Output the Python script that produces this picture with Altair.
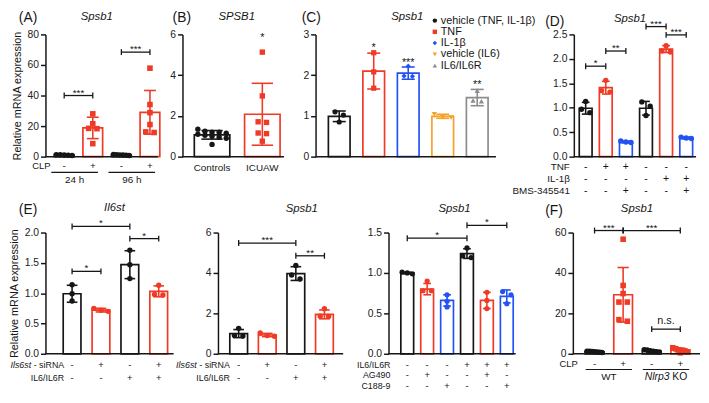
import altair as alt
import pandas as pd

FONT = "Liberation Sans"
K = "#161616"
R = "#EF3A25"
BL = "#2452F2"
OR = "#F5A02A"
GR = "#8C8C8C"

# ---------------- data ----------------
# (A) Spsb1, mouse muscle after CLP
A_cond = ["24 h -", "24 h +", "96 h -", "96 h +"]
A_mean = [1.0, 18.8, 1.05, 29.0]
A_sd = [0.3, 7.0, 0.3, 14.3]
A_pts = [[0.7, 1.0, 1.2, 0.9, 1.2], [28.0, 21.5, 18.5, 18.3, 8.5],
         [0.8, 1.1, 1.3, 0.9, 1.0, 1.2], [57.9, 34.1, 28.8, 21.0, 16.2, 15.8]]
A_sig = [(1, 2, 40.0, "***"), (3, 4, 68.4, "***")]
A_clp = ["-", "+", "-", "+"]
A_groups = ["24 h", "96 h"]

# (B) SPSB1, human muscle
B_cat = ["Controls", "ICUAW"]
B_mean = [1.07, 2.08]
B_sd = [0.21, 1.52]
B_pts = [[1.35, 1.25, 1.2, 1.2, 1.15, 1.1, 1.05, 1.0, 0.95, 0.9, 0.6],
         [5.13, 2.98, 1.71, 1.68, 1.16, 1.13, 0.76]]
B_star = ["", "*"]
B_star_y = [0.0, 5.95]

# (C) Spsb1, cytokine stimulation
C_cond = ["vehicle (TNF, IL-1β)", "TNF", "IL-1β", "vehicle (IL6)", "IL6/IL6R"]
C_mean = [0.99, 2.1, 2.05, 0.99, 1.45]
C_sd = [0.13, 0.44, 0.15, 0.05, 0.2]
C_pts = [[1.1, 1.02, 0.85], [2.55, 2.08, 1.68], [2.22, 1.98, 1.97],
         [1.04, 0.97, 0.96], [1.62, 1.38, 1.36]]
C_star = ["", "*", "***", "", "**"]
C_star_y = [0.0, 2.75, 2.38, 0.0, 1.83]

# (D) Spsb1, NF-kB inhibition
D_mean = [0.99, 1.41, 0.3, 0.99, 2.2, 0.38]
D_sd = [0.12, 0.13, 0.02, 0.14, 0.07, 0.02]
D_pts = [[1.13, 0.97, 0.9], [1.56, 1.35, 1.32], [0.32, 0.3, 0.29],
         [1.12, 1.03, 0.84], [2.27, 2.16, 2.14], [0.4, 0.38, 0.37]]
D_sig = [(1, 2, 1.85, "*"), (2, 3, 2.16, "**"), (4, 5, 2.66, "***"), (5, 6, 2.49, "***")]
D_tnf = ["-", "+", "+", "-", "-", "-"]
D_il1b = ["-", "-", "-", "-", "+", "+"]
D_bms = ["-", "-", "+", "-", "-", "+"]

# (E) left: Il6st
E1_mean = [0.99, 0.72, 1.47, 1.03]
E1_sd = [0.14, 0.03, 0.23, 0.09]
E1_pts = [[1.14, 0.99, 0.87], [0.75, 0.72, 0.7], [1.71, 1.47, 1.24], [1.13, 0.98, 0.97]]
E1_sig = [(1, 3, 2.1, "*"), (3, 4, 1.9, "*"), (1, 2, 1.36, "*")]
# (E) middle: Spsb1
E2_mean = [1.0, 0.93, 3.97, 1.95]
E2_sd = [0.2, 0.08, 0.34, 0.22]
E2_pts = [[1.26, 0.9, 0.88], [1.03, 0.87, 0.9], [4.37, 3.7, 3.9], [2.23, 1.85, 1.86]]
E2_sig = [(1, 3, 5.48, "***"), (3, 4, 4.85, "**")]
E_sirna = ["-", "+", "-", "+"]
E_il6 = ["-", "-", "+", "+"]
# (E) right: Spsb1, JAK/STAT3 inhibition
E3_mean = [1.0, 0.8, 0.66, 1.24, 0.66, 0.71]
E3_sd = [0.01, 0.07, 0.07, 0.06, 0.1, 0.08]
E3_pts = [[1.0, 1.01, 0.99], [0.9, 0.78, 0.78], [0.73, 0.65, 0.58],
          [1.31, 1.19, 1.21], [0.76, 0.66, 0.56], [0.77, 0.73, 0.62]]
E3_sig = [(1, 4, 1.43, "*"), (4, 6, 1.59, "*")]
E3_il6 = ["-", "-", "-", "+", "+", "+"]
E3_ag490 = ["-", "+", "-", "-", "+", "-"]
E3_c188 = ["-", "-", "+", "-", "-", "+"]

# (F) Spsb1, WT vs Nlrp3 KO after CLP
F_mean = [1.0, 29.2, 1.4, 1.8]
F_sd = [0.3, 13.5, 0.4, 0.8]
F_pts = [[0.6, 0.8, 1.0, 1.1, 1.2, 1.3, 0.9], [56.7, 33.8, 29.8, 25.6, 25.6, 16.9, 16.1],
         [1.0, 1.5, 2.0, 1.8, 1.2, 0.9], [0.5, 1.0, 1.5, 2.0, 2.5, 3.0, 1.8]]
F_sig = [(1, 2, 61.0, "***"), (2, 4, 61.0, "***"), (3, 4, 12.2, "n.s.")]
F_clp = ["-", "+", "-", "+"]
F_groups = ["WT", "Nlrp3 KO"]

# ---------------- helpers ----------------
AW = {" ": 278, "-": 333, "/": 278, "(": 333, ")": 333, ".": 278}
for ch in "0123456789":
    AW[ch] = 556
for ch, w in zip("abcdefghijklmnopqrstuvwxyz",
                 [556, 556, 500, 556, 556, 278, 556, 556, 222, 222, 500, 222, 833, 556, 556, 556, 556, 333, 500, 278, 556, 500, 722, 500, 500, 500]):
    AW[ch] = w
for ch, w in zip("ABCDEFGHIJKLMNOPQRSTUVWXYZ",
                 [667, 667, 722, 722, 667, 611, 778, 722, 278, 500, 667, 556, 833, 722, 778, 667, 778, 722, 667, 611, 722, 667, 944, 667, 667, 611]):
    AW[ch] = w


def twidth(s, fs):
    return sum(AW.get(c, 556) for c in s) * fs / 1000.0


def swarm(vals, ymax, H, bw):
    spread = bw * 0.8
    order = sorted(range(len(vals)), key=lambda i: -vals[i])
    clusters = []
    for i in order:
        ypx = vals[i] / ymax * H
        if clusters and abs(clusters[-1][0] - ypx) < 4.5:
            clusters[-1][1].append(i)
        else:
            clusters.append([ypx, [i]])
    offs = [0.0] * len(vals)
    for _, idx in clusters:
        k = len(idx)
        if k > 1:
            st = min(spread / (k - 1), 8.5)
            for j, i in enumerate(idx):
                offs[i] = (j - (k - 1) / 2) * st
    return offs


def one(**kw):
    return pd.DataFrame({k: [v] for k, v in kw.items()})


def build(c):
    W, H, L = c["W"], c["H"], c["L"]
    f, s, bw = c["first"], c["step"], c["bw"]
    ymax = c["ymax"]
    n = len(c["mean"])
    d0 = 1 - f / s
    d1 = 1 + (W - f) / s
    xsc = alt.Scale(domain=[d0, d1], nice=False, zero=False)
    ysc = alt.Scale(domain=[0, ymax], nice=False, zero=False)
    axkw = dict(values=c["ticks"], format=c["fmt"], grid=False, labelPadding=2)
    if c.get("ytitle"):
        axkw["title"] = c["ytitle"]
        axkw["titlePadding"] = 5
    else:
        axkw["title"] = ""
    yax = alt.Axis(**axkw)

    def X(fl):
        return alt.X(f"{fl}:Q", scale=xsc, axis=None)

    def Y(fl):
        return alt.Y(f"{fl}:Q", scale=ysc, axis=yax)

    hw = bw / 2 / s
    cw = bw * 0.3 / s
    pos = list(range(1, n + 1))
    bars = pd.DataFrame({"pos": pos, "mean": c["mean"], "sd": c["sd"], "col": c["colors"]})
    bars["xl"] = bars["pos"] - hw
    bars["xr"] = bars["pos"] + hw
    bars["lo"] = bars["mean"] - bars["sd"]
    bars["hi"] = bars["mean"] + bars["sd"]
    bars["cl"] = bars["pos"] - cw
    bars["cr"] = bars["pos"] + cw
    col = alt.Color("col:N", scale=None)
    layers = []
    layers.append(alt.Chart(bars).mark_rect(fill="white", strokeWidth=1.7).encode(
        x=X("xl"), x2="xr:Q", y=Y("mean"), y2=alt.datum(0), stroke=alt.Stroke("col:N", scale=None)))
    layers.append(alt.Chart(bars).mark_rule(strokeWidth=1.6).encode(x=X("pos"), y=Y("lo"), y2="hi:Q", color=col))
    layers.append(alt.Chart(bars).mark_rule(strokeWidth=1.6).encode(x=X("cl"), x2="cr:Q", y=Y("hi"), color=col))
    layers.append(alt.Chart(bars).mark_rule(strokeWidth=1.6).encode(x=X("cl"), x2="cr:Q", y=Y("lo"), color=col))

    # points
    rows = []
    for i, vals in enumerate(c["pts"]):
        offs = swarm(vals, ymax, H, bw)
        for v, o in zip(vals, offs):
            rows.append({"x": i + 1 + o / s, "v": v, "col": c["colors"][i], "shape": c["shapes"][i]})
    pdf = pd.DataFrame(rows)
    layers.append(alt.Chart(pdf).mark_point(filled=True, size=c.get("ms", 30), opacity=1, strokeWidth=0).encode(
        x=X("x"), y=Y("v"), color=alt.Color("col:N", scale=None), shape=alt.Shape("shape:N", scale=None)))

    # legend drawn inside the panel (C)
    if c.get("legend"):
        lx, ly, lstep = c["legend"]
        lg = pd.DataFrame({"cond": c["cond"], "col": c["colors"], "shape": c["shapes"], "i": list(range(n))})
        lg["yy"] = ly + lg["i"] * lstep
        layers.append(alt.Chart(lg).mark_point(filled=True, size=20, opacity=1, strokeWidth=0).encode(
            x=alt.value(lx), y=alt.Y("yy:Q", scale=None, axis=None),
            color=alt.Color("col:N", scale=None), shape=alt.Shape("shape:N", scale=None)))
        layers.append(alt.Chart(lg).mark_text(fontSize=11, align="left", baseline="middle", color=K).encode(
            x=alt.value(lx + 6), y=alt.Y("yy:Q", scale=None, axis=None), text="cond:N"))

    # significance brackets
    if c.get("sig"):
        br = pd.DataFrame(c["sig"], columns=["x1", "x2", "y", "lab"])
        br["xm"] = (br["x1"] + br["x2"]) / 2
        dyu = 3.0 / H * ymax
        ends = pd.DataFrame({"x": list(br["x1"]) + list(br["x2"]),
                             "ya": list(br["y"] - dyu) * 2, "yb": list(br["y"] + dyu) * 2})
        layers.append(alt.Chart(br).mark_rule(strokeWidth=1.3, color=K).encode(x=X("x1"), x2="x2:Q", y=Y("y")))
        layers.append(alt.Chart(ends).mark_rule(strokeWidth=1.3, color=K).encode(x=X("x"), y=Y("ya"), y2="yb:Q"))
        stars = br[br["lab"].str.startswith("*")]
        other = br[~br["lab"].str.startswith("*")]
        if len(stars):
            layers.append(alt.Chart(stars).mark_text(fontSize=10, baseline="alphabetic", dy=0, color=K).encode(
                x=X("xm"), y=Y("y"), text="lab:N"))
        if len(other):
            layers.append(alt.Chart(other).mark_text(fontSize=11, baseline="alphabetic", dy=-5, color=K).encode(
                x=X("xm"), y=Y("y"), text="lab:N"))

    # stars above bars
    if c.get("stars"):
        st = pd.DataFrame({"pos": pos, "t": c["stars"], "y": c["star_y"]})
        st = st[st["t"] != ""]
        layers.append(alt.Chart(st).mark_text(fontSize=11, baseline="alphabetic", dy=6, color=K).encode(
            x=X("pos"), y=Y("y"), text="t:N"))

    # x labels under bars
    if c.get("xlabels"):
        xl = pd.DataFrame({"pos": pos, "t": c["xlabels"]})
        layers.append(alt.Chart(xl).mark_text(fontSize=10, baseline="middle", color=K).encode(
            x=X("pos"), y=alt.value(H + 12), text="t:N"))

    # +/- table
    tfs = c.get("tfs", 9.5)
    for lab, vals, ry in c.get("table", []):
        df = pd.DataFrame({"pos": pos, "t": vals})
        layers.append(alt.Chart(df).mark_text(fontSize=tfs + 0.5, baseline="middle", color=K).encode(
            x=X("pos"), y=alt.value(ry), text="t:N"))
        rx = c["rx"]
        if isinstance(lab, tuple):
            ital, norm = lab
            layers.append(alt.Chart(one(t=norm)).mark_text(fontSize=tfs, align="right", baseline="middle", color=K).encode(
                x=alt.value(rx), y=alt.value(ry), text="t:N"))
            layers.append(alt.Chart(one(t=ital)).mark_text(fontSize=tfs, align="right", baseline="middle",
                                                           fontStyle="italic", color=K).encode(
                x=alt.value(rx - twidth(norm, tfs) - twidth(" ", tfs)), y=alt.value(ry), text="t:N"))
        else:
            layers.append(alt.Chart(one(t=lab)).mark_text(fontSize=tfs, align="right", baseline="middle", color=K).encode(
                x=alt.value(rx), y=alt.value(ry), text="t:N"))

    # group underlines
    if c.get("groups"):
        pl, pr = c["gpad"]
        g = pd.DataFrame({"x1": [1 - pl, 3 - pl], "x2": [2 + pr, 4 + pr], "lab": c["groups"]})
        g["xm"] = (g["x1"] + g["x2"]) / 2
        gy = c["gy"]
        layers.append(alt.Chart(g).mark_rule(strokeWidth=1.1, color=K).encode(x=X("x1"), x2="x2:Q", y=alt.value(gy)))
        plain = g[~g["lab"].str.contains("KO")]
        layers.append(alt.Chart(plain).mark_text(fontSize=10, baseline="middle", color=K).encode(
            x=X("xm"), y=alt.value(gy + 8), text="lab:N"))
        ko = g[g["lab"].str.contains("KO")]
        if len(ko):
            gfs = 10.5
            full = ko["lab"].iloc[0]
            ital, rest = full.split(" ", 1)
            shift = twidth(ital, gfs) - twidth(full, gfs) / 2
            it = ko.assign(t=ital)
            rs = ko.assign(t=rest)
            layers.append(alt.Chart(it).mark_text(fontSize=gfs, baseline="middle", align="right", fontStyle="italic",
                                                  dx=shift, color=K).encode(x=X("xm"), y=alt.value(gy + 8), text="t:N"))
            layers.append(alt.Chart(rs).mark_text(fontSize=gfs, baseline="middle", align="left",
                                                  dx=shift + twidth(" ", gfs), color=K).encode(
                x=X("xm"), y=alt.value(gy + 8), text="t:N"))

    # baseline (x axis line)
    layers.append(alt.Chart(one(a=0)).mark_rule(color=K, strokeWidth=1.5).encode(
        x=alt.value(0), x2=alt.value(L), y=alt.value(H)))
    # titles
    layers.append(alt.Chart(one(t=c["gene"])).mark_text(fontSize=11.5, fontStyle="italic", baseline="middle", color=K).encode(
        x=alt.value(c["tx"]), y=alt.value(c["ty"]), text="t:N"))
    if c.get("label"):
        layers.append(alt.Chart(one(t=c["label"])).mark_text(fontSize=14, align="left", baseline="middle", color=K).encode(
            x=alt.value(c["lx"]), y=alt.value(c["ly"]), text="t:N"))
    return alt.layer(*layers).properties(width=W, height=H)


HT = 124
HB = 123
top = [
    dict(W=139, H=HT, L=114, first=19, step=29, bw=20, ymax=80, ticks=[0, 20, 40, 60, 80], fmt="d",
         mean=A_mean, sd=A_sd, pts=A_pts, colors=[K, R, K, R], shapes=["circle", "square", "circle", "square"],
         ms=32, sig=A_sig, table=[("CLP", A_clp, HT + 10)], rx=5, tfs=9.5,
         groups=A_groups, gpad=(0.45, 0.18), gy=HT + 16,
         gene="Spsb1", tx=52, ty=-18, label="(A)", lx=-27, ly=-17, ytitle="Relative mRNA expression"),
    dict(W=135, H=HT, L=103, first=30, step=51, bw=36, ymax=6, ticks=[0, 2, 4, 6], fmt="d",
         mean=B_mean, sd=B_sd, pts=B_pts, colors=[K, R], shapes=["circle", "square"], ms=30,
         stars=B_star, star_y=B_star_y, xlabels=B_cat,
         gene="SPSB1", tx=55, ty=-18, label="(B)", lx=-10, ly=-17),
    dict(W=262, H=HT, L=183, first=24, step=35, bw=22, ymax=3, ticks=[0, 1, 2, 3], fmt="d",
         mean=C_mean, sd=C_sd, pts=C_pts, colors=[K, R, BL, OR, GR],
         shapes=["circle", "square", "diamond", "triangle-down", "triangle-up"], cond=C_cond, ms=28,
         legend=(121, -14, 11.4), stars=C_star, star_y=C_star_y,
         gene="Spsb1", tx=93, ty=-18, label="(C)", lx=-14, ly=-17),
    dict(W=124, H=HT, L=124, first=12, step=20.4, bw=13, ymax=2.5, ticks=[0, 0.5, 1.0, 1.5, 2.0, 2.5], fmt=".1f",
         mean=D_mean, sd=D_sd, pts=D_pts, colors=[K, R, BL, K, R, BL], shapes=["circle"] * 6, ms=30,
         sig=D_sig, table=[("TNF", D_tnf, HT + 11), ("IL-1β", D_il1b, HT + 23), ("BMS-345541", D_bms, HT + 35)],
         rx=-4, tfs=10,
         gene="Spsb1", tx=57, ty=-16, label="(D)", lx=-29, ly=-13),
]
bottom = [
    dict(W=175, H=HB, L=130, first=27, step=29.3, bw=18, ymax=2.0, ticks=[0, 0.5, 1.0, 1.5, 2.0], fmt=".1f",
         mean=E1_mean, sd=E1_sd, pts=E1_pts, colors=[K, R, K, R], shapes=["circle"] * 4, ms=30,
         sig=E1_sig, table=[(("Ils6st", "- siRNA"), E_sirna, HB + 11), ("IL6/IL6R", E_il6, HB + 25)], rx=19, tfs=9,
         gene="Il6st", tx=70, ty=-25, label="(E)", lx=-27, ly=-23, ytitle="Relative mRNA expression"),
    dict(W=173, H=HB, L=127, first=21, step=29, bw=18, ymax=6, ticks=[0, 2, 4, 6], fmt="d",
         mean=E2_mean, sd=E2_sd, pts=E2_pts, colors=[K, R, K, R], shapes=["circle"] * 4, ms=30,
         sig=E2_sig, table=[(("Ils6st", "- siRNA"), E_sirna, HB + 11), ("IL6/IL6R", E_il6, HB + 25)], rx=12, tfs=9,
         gene="Spsb1", tx=85, ty=-24),
    dict(W=187, H=HB, L=129, first=19, step=20.2, bw=13, ymax=1.5, ticks=[0, 0.5, 1.0, 1.5], fmt=".1f",
         mean=E3_mean, sd=E3_sd, pts=E3_pts, colors=[K, R, BL, K, R, BL], shapes=["circle"] * 6, ms=28,
         sig=E3_sig, table=[("IL6/IL6R", E3_il6, HB + 11), ("AG490", E3_ag490, HB + 22), ("C188-9", E3_c188, HB + 33)],
         rx=2, tfs=9,
         gene="Spsb1", tx=67, ty=-24),
    dict(W=129, H=HB, L=129, first=22, step=29, bw=19, ymax=60, ticks=[0, 20, 40, 60], fmt="d",
         mean=F_mean, sd=F_sd, pts=F_pts, colors=[K, R, K, R], shapes=["circle", "square", "circle", "square"], ms=32,
         sig=F_sig, table=[("CLP", F_clp, HB + 10)], rx=5, tfs=9.5,
         groups=F_groups, gpad=(0.31, 0.31), gy=HB + 16,
         gene="Spsb1", tx=65, ty=-24, label="(F)", lx=-28, ly=-22),
]

row1 = alt.hconcat(*[build(p) for p in top], spacing=0, bounds="flush")
row2 = alt.hconcat(*[build(p) for p in bottom], spacing=0, bounds="flush")

chart = alt.vconcat(row1, row2, spacing=5).properties(
    padding={"left": 0, "top": 0, "right": 0, "bottom": 0}
).configure(font=FONT).configure_view(stroke=None).configure_axis(
    domainColor=K, domainWidth=1.5, tickColor=K, tickWidth=1.5, tickSize=5,
    labelFontSize=10.5, labelColor="#222222", labelFont=FONT,
    titleFontSize=11, titleFontWeight="normal", titleColor=K, titleFont=FONT
).configure_text(font=FONT)

chart.save("out.html", embed_options={"renderer": "svg", "actions": False})
